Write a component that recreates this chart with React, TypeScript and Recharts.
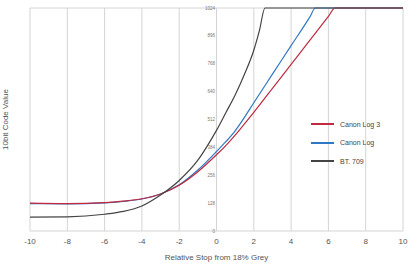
import React from "react";
import {
  LineChart,
  Line,
  XAxis,
  YAxis,
  CartesianGrid,
  ReferenceDot,
} from "recharts";

const FONT = "'Liberation Sans', Arial, sans-serif";

const xTicks = [-10, -8, -6, -4, -2, 0, 2, 4, 6, 8, 10];
const yTicks = [0, 128, 256, 384, 512, 640, 768, 896, 1024];

const clog3Stops = [-10, -8, -6, -5, -4, -3, -2, -1, 0, 0.5, 1, 1.5, 2, 3, 4, 5, 6, 6.35, 8, 10];
const clog3Values = [128, 126, 130, 137, 148, 170, 210, 272, 350, 392, 440, 492, 545, 655, 765, 875, 985, 1024, 1024, 1024];

const clogStops = [-10, -8, -6, -5, -4, -3, -2, -1, 0, 0.5, 1, 1.5, 2, 3, 4, 5, 5.3, 8, 10];
const clogValues = [126, 125, 129, 136, 147, 170, 212, 280, 365, 410, 460, 522, 589, 720, 851, 982, 1024, 1024, 1024];

const bt709Stops = [-10, -8, -6, -5, -4, -3, -2, -1, -0.5, 0, 0.5, 1, 1.5, 2, 2.3, 2.6, 4, 6, 8, 10];
const bt709Values = [64, 65, 77, 90, 115, 165, 232, 325, 390, 462, 543, 625, 720, 830, 920, 1024, 1024, 1024, 1024, 1024];

const zip = (xs: number[], ys: number[]) => xs.map((stop, i) => ({ stop, value: ys[i] }));

const SERIES = [
  { name: "Canon Log 3", color: "#bf2a40", data: zip(clog3Stops, clog3Values) },
  { name: "Canon Log", color: "#2f78c4", data: zip(clogStops, clogValues) },
  { name: "BT. 709", color: "#444444", data: zip(bt709Stops, bt709Values) },
];

// draw order: blue under red, black last
const DRAW_ORDER = [1, 0, 2];

function LegendBox() {
  return (
    <div style={{ position: "absolute", left: 306, top: 115, fontFamily: FONT }}>
      {SERIES.map((s) => (
        <div
          key={s.name}
          style={{ display: "flex", alignItems: "center", height: 18.5 }}
        >
          <svg width={24} height={4} style={{ marginLeft: 5 }}>
            <line x1={0} y1={2} x2={23} y2={2} stroke={s.color} strokeWidth={2} />
          </svg>
          <span style={{ marginLeft: 5, fontSize: 7, color: "#444" }}>{s.name}</span>
        </div>
      ))}
    </div>
  );
}

export default function App() {
  return (
    <div style={{ position: "relative", width: 418, height: 264, background: "#fff" }}>
      <style>{`body{margin:0}`}</style>
      <LineChart
        width={418}
        height={264}
        margin={{ top: 8, right: 15, left: 0, bottom: 0 }}
      >
        <CartesianGrid stroke="#d4d4d4" strokeWidth={1} />
        <XAxis
          type="number"
          dataKey="stop"
          domain={[-10, 10]}
          ticks={xTicks}
          allowDuplicatedCategory={false}
          axisLine={false}
          tickLine={false}
          tickMargin={1}
          height={33}
          tick={{ fontSize: 8, fill: "#555", fontFamily: FONT }}
          label={{
            value: "Relative Stop from 18% Grey",
            position: "insideBottom",
            offset: 4,
            fontSize: 8,
            fill: "#555",
            fontFamily: FONT,
          }}
        />
        <YAxis
          type="number"
          domain={[0, 1024]}
          ticks={yTicks}
          width={30}
          axisLine={false}
          tickLine={false}
          tick={false}
          label={{
            value: "10bit Code Value",
            angle: -90,
            position: "insideLeft",
            offset: 5,
            fontSize: 8,
            fill: "#555",
            fontFamily: FONT,
            style: { textAnchor: "middle" },
          }}
        />
        {DRAW_ORDER.map((i) => {
          const s = SERIES[i];
          return (
            <Line
              key={s.name}
              data={s.data}
              dataKey="value"
              name={s.name}
              type="monotone"
              stroke={s.color}
              strokeWidth={1.2}
              dot={false}
              activeDot={false}
              isAnimationActive={false}
            />
          );
        })}
        {yTicks.map((v) => (
          <ReferenceDot
            key={v}
            x={0}
            y={v}
            r={0}
            fill="none"
            stroke="none"
            label={{
              value: String(v),
              position: "left",
              offset: 1.5,
              fontSize: 4.5,
              fill: "#777",
              fontFamily: FONT,
            }}
          />
        ))}
      </LineChart>
      <LegendBox />
    </div>
  );
}
